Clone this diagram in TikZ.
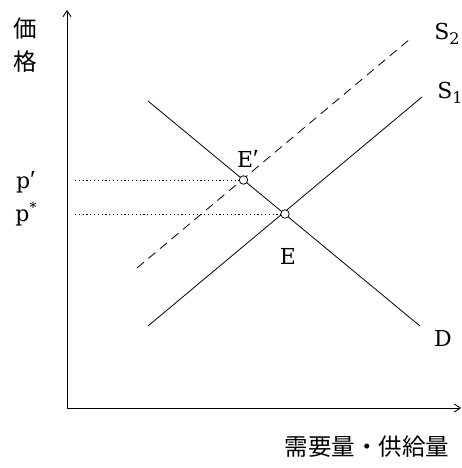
\documentclass[tikz,border=0pt]{standalone}
\usepackage{fontspec}
\setmainfont{DejaVu Serif}
\newfontfamily\primefont{Liberation Serif}
\newfontfamily\jpfont{Noto Sans CJK JP}
\usetikzlibrary{arrows.meta}
\newcommand{\lowsub}[1]{\raisebox{-0.25em}{\fontsize{16}{18}\selectfont #1}}
\newcommand{\highsup}[1]{\raisebox{0.42em}{\fontsize{14}{16}\selectfont #1}}
\newcommand{\prm}{{\primefont\fontsize{26}{28}\selectfont ′}}
\begin{document}
\begin{tikzpicture}[x=1pt,y=-1pt,
  axis/.style={line width=0.9pt,-{Straight Barb[length=6pt,width=8pt]}},
  curve/.style={line width=0.8pt},
  guide/.style={line width=0.8pt,dash pattern=on 1.2pt off 2.6pt},
  pt/.style={circle,draw,fill=white,line width=0.8pt,inner sep=0pt,minimum size=8.5pt},
  lbl/.style={font=\fontsize{22}{26}\selectfont,inner sep=0pt},
  jlbl/.style={font=\jpfont\fontsize{23.5}{28}\selectfont,inner sep=0pt}]
\useasboundingbox (0,0) rectangle (462,468);
\coordinate (O) at (67,408);
\coordinate (Ytop) at (67,10);
\coordinate (Xend) at (461,408);
\draw[axis] (O) -- (Ytop);
\draw[axis] (O) -- (Xend);
% curves
\coordinate (D1) at (148,101);
\coordinate (D2) at (420,326);
\coordinate (S1a) at (148,326);
\coordinate (S1b) at (422,97);
\coordinate (S2a) at (137,268);
\coordinate (S2b) at (410,39);
\draw[curve] (D1) -- (D2);
\draw[curve] (S1a) -- (S1b);
\draw[curve,dashed,dash pattern=on 9pt off 6pt] (S2a) -- (S2b);
% guides
\coordinate (g1) at (75,180);
\coordinate (g2) at (75,214);
\node[pt] (Ep) at (243.5,180) {};
\node[pt] (E) at (285,214) {};
\draw[guide] (g1) -- (Ep.west);
\draw[guide] (g2) -- (E.west);
% labels
\node[jlbl] (ka) at (25,29) {価};
\node[jlbl] (ku) at (25,62) {格};
\node[lbl] (pp) at (26,182) {p\prm};
\node[lbl] (ps) at (26,214) {p\highsup{*}};
\node[lbl] (lEp) at (248,159) {E\prm};
\node[lbl] (lE) at (288,256) {E};
\node[lbl] (lS2) at (447,34) {S\lowsub{2}};
\node[lbl] (lS1) at (450,93) {S\lowsub{1}};
\node[lbl] (lD) at (443,338) {D};
\node[jlbl] (xl) at (367,447) {需要量・供給量};
\end{tikzpicture}
\end{document}
